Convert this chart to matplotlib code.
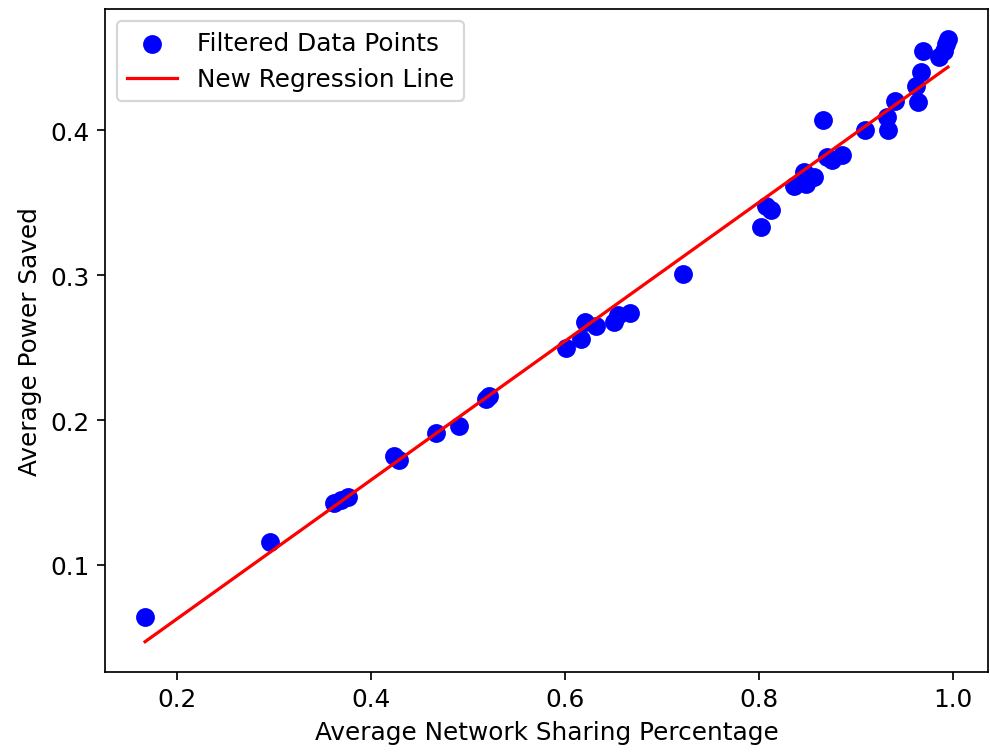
#%%
import numpy as np
import matplotlib.pyplot as plt

plt.rcParams['font.size'] = 11.5

#%%
# 필터링된 데이터
sharing_pct = [0.167, 0.296, 0.362, 0.369, 0.376, 0.4236, 0.4287, 0.467, 0.4907,
               0.518, 0.521, 0.6008, 0.616, 0.6206, 0.632, 0.650, 0.654, 0.6666,
               0.7211, 0.802, 0.807, 0.812, 0.836, 0.846, 0.848, 0.8564, 0.866,
               0.870, 0.875, 0.885, 0.9086, 0.9331, 0.932, 0.940, 0.9638, 0.9615,
               0.967, 0.969, 0.985, 0.991, 0.9928, 0.9945]
power_saved = [0.064, 0.116, 0.1425, 0.145, 0.1467, 0.175, 0.1724, 0.191, 0.1959,
               0.2145, 0.2165, 0.250, 0.2563, 0.2678, 0.2648, 0.2676, 0.2724, 0.274,
               0.3012, 0.3333, 0.348, 0.3453, 0.362, 0.3712, 0.3632, 0.3678, 0.4069,
               0.3816, 0.3793, 0.3828, 0.400, 0.400, 0.409, 0.4207, 0.4195, 0.431,
               0.4402, 0.4547, 0.4506, 0.4552, 0.4598, 0.4632]

# 회귀선 계수
slope = 0.4795
intercept = -0.0331

#%%
fig = plt.figure(figsize=(990/155, 756/155), dpi=155)
ax = fig.add_axes([0.106, 0.110, 0.892, 0.877])

ax.scatter(sharing_pct, power_saved, color='blue', s=60, label='Filtered Data Points')

x_line = np.array([min(sharing_pct), max(sharing_pct)])
ax.plot(x_line, slope * x_line + intercept, color='red', label='New Regression Line')

ax.set_xlabel('Average Network Sharing Percentage')
ax.set_ylabel('Average Power Saved')
ax.legend(loc='upper left')

plt.savefig('out.png', dpi=155)
